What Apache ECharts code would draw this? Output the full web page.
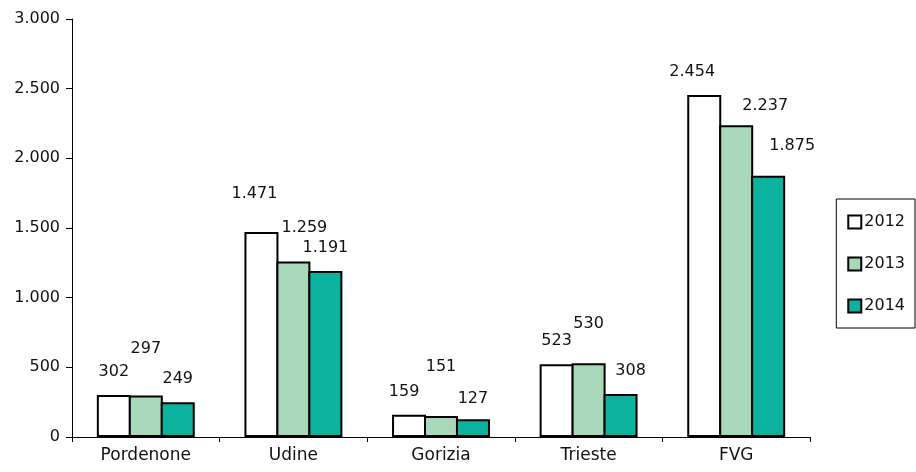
<!DOCTYPE html>
<html>
<head>
<meta charset="utf-8">
<script src="https://cdn.jsdelivr.net/npm/echarts@6/dist/echarts.min.js"></script>
<style>html,body{margin:0;padding:0;background:#fff}#c{width:916px;height:472px}</style>
</head>
<body>
<div id="c"></div>
<script>
const categories = ['Pordenone', 'Udine', 'Gorizia', 'Trieste', 'FVG'];
const years = ['2012', '2013', '2014'];
const v2012 = [302, 1471, 159, 523, 2454];
const v2013 = [297, 1259, 151, 530, 2237];
const v2014 = [249, 1191, 127, 308, 1875];
const yTicks = [0, 500, 1000, 1500, 2000, 2500, 3000];

// label nudges (px) to mimic the staggered labels of the original
const labelShift = [
  [[0,0],[-7,-15],[-5,0],[0,0],[-12,0]],
  [[0,-24],[11,-11],[0,-26],[0,-16],[29,4]],
  [[0,0],[0,0],[0,3],[10,0],[24,-7]]
];
const colors = ['#ffffff', '#a8d8b9', '#0bb39f'];
const fmt = v => String(v).replace(/\B(?=(\d{3})+(?!\d))/g, '.');
const font = 'DejaVu Sans';

const values = [v2012, v2013, v2014];
const series = years.map((y, i) => ({
  name: y,
  type: 'bar',
  barWidth: 34,
  barGap: '-6%',
  itemStyle: { color: colors[i], borderColor: '#000', borderWidth: 2 },
  data: values[i].map((v, j) => ({
    value: v,
    label: { offset: labelShift[i][j] }
  })),
  label: {
    show: true, position: 'top', distance: 15,
    color: '#111', fontFamily: font, fontSize: 16,
    formatter: p => fmt(p.value)
  }
}));

const chart = echarts.init(document.getElementById('c'));
chart.setOption({
  animation: false,
  grid: { left: 72, right: 106, top: 19, bottom: 35 },
  xAxis: {
    type: 'category',
    data: categories,
    axisLine: { lineStyle: { color: '#000', width: 1 } },
    axisTick: { show: true, length: 5, lineStyle: { color: '#000' } },
    axisLabel: { color: '#111', fontFamily: font, fontSize: 17, margin: 10 }
  },
  yAxis: {
    type: 'value',
    min: yTicks[0], max: yTicks[yTicks.length - 1], interval: 500,
    splitLine: { show: false },
    axisLine: { show: true, lineStyle: { color: '#000', width: 1 } },
    axisTick: { show: true, length: 6, lineStyle: { color: '#000' } },
    axisLabel: { color: '#111', fontFamily: font, fontSize: 16, margin: 12, formatter: v => fmt(v) }
  },
  legend: {
    orient: 'vertical',
    right: 1, top: 199,
    width: 80,
    padding: [15, 10, 14, 11],
    borderColor: '#000', borderWidth: 1,
    itemWidth: 13, itemHeight: 13, itemGap: 26,
    icon: 'rect',
    textStyle: { color: '#111', fontFamily: font, fontSize: 16, padding: [0, 0, 0, -2] },
    data: years
  },
  series: series
});
</script>
</body>
</html>
